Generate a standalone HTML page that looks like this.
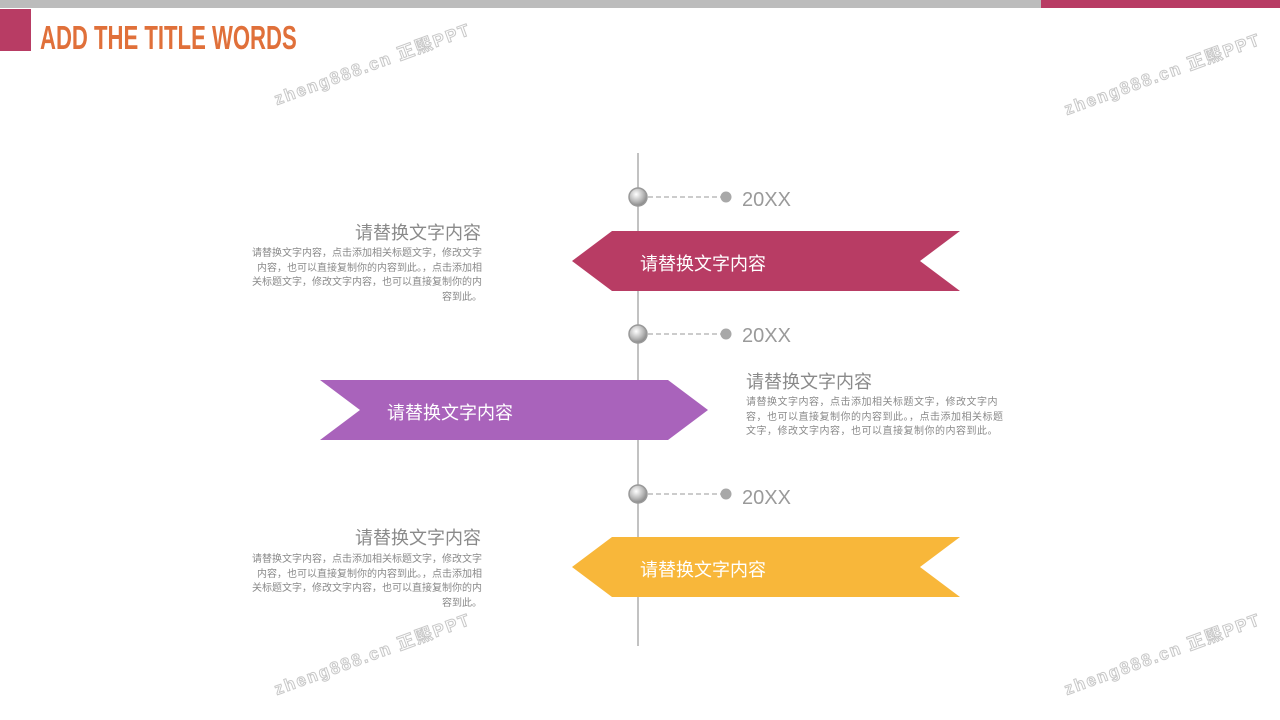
<!DOCTYPE html>
<html><head><meta charset="utf-8"><style>
body{margin:0;width:1280px;height:720px;background:#fff;position:relative;overflow:hidden;font-family:"Liberation Sans","Noto Sans CJK SC",sans-serif}
.a{position:absolute}
.h{font-size:18px;color:#8a8a8a;white-space:nowrap}
.b{font-size:10px;line-height:14.7px;color:#8a8a8a;width:232px}
.yr{font-size:20px;color:#9a9a9a}
.rt{color:#fff;font-size:18px;white-space:nowrap}
.wm{position:absolute;color:#fff;font-size:17px;font-weight:bold;letter-spacing:2px;transform:rotate(-20deg);-webkit-text-stroke:1px #c8c8c8;white-space:nowrap}
</style></head><body>
<div class="a" style="left:0;top:0;width:1280px;height:8px;background:#bcbcbc"></div>
<div class="a" style="left:1041px;top:0;width:239px;height:8px;background:#b83c64"></div>
<div class="a" style="left:0;top:9px;width:31px;height:42px;background:#b83c64"></div>
<div class="a" style="left:40px;top:19px;font-weight:bold;font-size:33px;color:#e0703a;line-height:38px;white-space:nowrap;transform:scaleX(0.67);transform-origin:0 0">ADD THE TITLE WORDS</div>

<svg class="a" style="left:0;top:0" width="1280" height="720">
<defs><radialGradient id="g" cx="40%" cy="35%" r="65%"><stop offset="0" stop-color="#fff"/><stop offset="0.6" stop-color="#bbb"/><stop offset="1" stop-color="#888"/></radialGradient></defs>
<line x1="638" y1="153" x2="638" y2="646" stroke="#999" stroke-width="1.2"/>
<g stroke="#999" stroke-dasharray="5,3"><line x1="648" y1="197" x2="722" y2="197"/><line x1="648" y1="334" x2="722" y2="334"/><line x1="648" y1="494" x2="722" y2="494"/></g>
<g fill="#a8a8a8"><circle cx="726" cy="197" r="5.5"/><circle cx="726" cy="334" r="5.5"/><circle cx="726" cy="494" r="5.5"/></g>
<g fill="url(#g)" stroke="#999" stroke-width="1.5"><circle cx="638" cy="197" r="9"/><circle cx="638" cy="334" r="9"/><circle cx="638" cy="494" r="9"/></g>
<polygon points="572,261 612,231 960,231 920,261 960,291 612,291" fill="#b83c64"/>
<polygon points="320,380 668,380 708,410 668,440 320,440 360,410" fill="#a963bb"/>
<polygon points="572,567 612,537 960,537 920,567 960,597 612,597" fill="#f8b73a"/>
</svg>

<div class="a yr" style="left:742px;top:189px">20XX</div>
<div class="a yr" style="left:742px;top:325px">20XX</div>
<div class="a yr" style="left:742px;top:487px">20XX</div>
<div class="a rt" style="left:640px;top:250px">请替换文字内容</div>
<div class="a rt" style="left:387px;top:399px">请替换文字内容</div>
<div class="a rt" style="left:640px;top:556px">请替换文字内容</div>

<div class="a h" style="right:799px;top:219px">请替换文字内容</div>
<div class="a b" style="left:250px;top:247px;text-align:right">请替换文字内容，点击添加相关标题文字，修改文字内容，也可以直接复制你的内容到此。，点击添加相关标题文字，修改文字内容，也可以直接复制你的内容到此。</div>
<div class="a h" style="left:746px;top:368px">请替换文字内容</div>
<div class="a b" style="left:746px;top:396px;width:258px;letter-spacing:0.5px">请替换文字内容，点击添加相关标题文字，修改文字内容，也可以直接复制你的内容到此。，点击添加相关标题文字，修改文字内容，也可以直接复制你的内容到此。</div>
<div class="a h" style="right:799px;top:524px">请替换文字内容</div>
<div class="a b" style="left:250px;top:553px;text-align:right">请替换文字内容，点击添加相关标题文字，修改文字内容，也可以直接复制你的内容到此。，点击添加相关标题文字，修改文字内容，也可以直接复制你的内容到此。</div>

<div class="wm" style="left:268px;top:50px">zheng888.cn 正熙PPT</div>
<div class="wm" style="left:1058px;top:60px">zheng888.cn 正熙PPT</div>
<div class="wm" style="left:268px;top:640px">zheng888.cn 正熙PPT</div>
<div class="wm" style="left:1058px;top:640px">zheng888.cn 正熙PPT</div>
</body></html>
